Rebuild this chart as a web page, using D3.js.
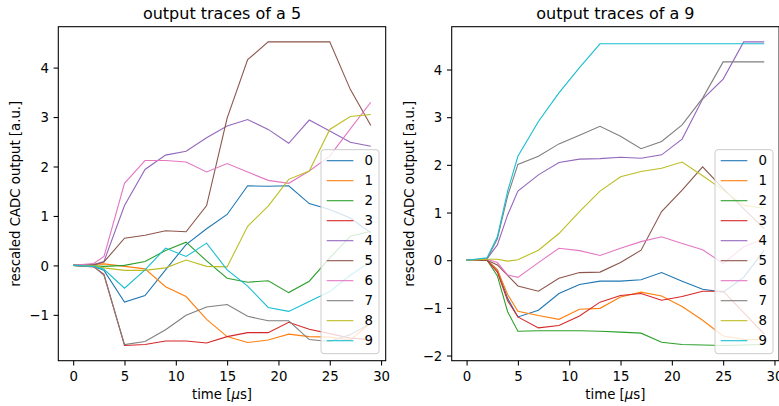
<!DOCTYPE html>
<html lang="en">
<head>
<meta charset="UTF-8">
<title>output traces</title>
<script src="https://d3js.org/d3.v7.min.js"></script>
<style>
body {
  margin: 0px;
  overflow: hidden;
  background: white;
}
text {
  font-family: "DejaVu Sans", sans-serif;
  fill: black;
}
.tick text {
  font-size: 13.3px;
}
.tick line, .domain {
  stroke: black;
}
</style>
</head>
<body>
<svg width="779" height="406"></svg>
<script>
// sample times (us)
const timesFive = [0, 2, 3, 5, 7, 9, 11, 13, 15, 17, 19, 21, 23, 25, 27, 29];
const timesNine = [0, 2, 3, 4, 5, 7, 9, 11, 13, 15, 17, 19, 21, 23, 25, 27, 29];

const labels = ['0', '1', '2', '3', '4', '5', '6', '7', '8', '9'];
const colors = ['#1f77b4', '#ff7f0e', '#2ca02c', '#d62728', '#9467bd',
                '#8c564b', '#e377c2', '#7f7f7f', '#bcbd22', '#17becf'];
const xTicks = [0, 5, 10, 15, 20, 25, 30];

// traces for the digit 5, one row per output neuron
const tracesFive = [
  [0, -0.02, -0.10, -0.74, -0.61, -0.09, 0.42, 0.74, 1.03, 1.61, 1.60, 1.61, 1.25, 1.13, 0.96, 0.66],
  [0, 0.02, 0.03, -0.02, -0.07, -0.43, -0.63, -1.09, -1.44, -1.56, -1.51, -1.39, -1.44, -1.45, -1.51, -1.16],
  [0, -0.01, -0.02, 0.00, 0.08, 0.30, 0.47, 0.09, -0.26, -0.34, -0.31, -0.55, -0.32, 0.15, 0.59, 0.69],
  [0, -0.03, -0.18, -1.62, -1.60, -1.53, -1.53, -1.57, -1.44, -1.36, -1.36, -1.15, -1.29, -1.38, -1.47, -1.50],
  [0, 0.02, 0.08, 1.21, 1.94, 2.23, 2.31, 2.58, 2.82, 2.95, 2.75, 2.47, 2.94, 2.72, 2.49, 2.41],
  [0, 0.01, 0.07, 0.55, 0.61, 0.70, 0.68, 1.21, 2.98, 4.16, 4.52, 4.52, 4.52, 4.52, 3.56, 2.83],
  [0, 0.04, 0.18, 1.66, 2.12, 2.12, 2.09, 1.89, 2.06, 1.89, 1.72, 1.66, 1.91, 2.21, 2.76, 3.30],
  [0, -0.02, -0.20, -1.60, -1.54, -1.30, -1.01, -0.84, -0.79, -1.03, -1.12, -1.12, -1.50, -1.54, -1.40, -1.17],
  [0, -0.01, -0.05, -0.10, -0.10, -0.05, 0.11, -0.02, -0.03, 0.79, 1.20, 1.74, 1.91, 2.75, 3.01, 3.05],
  [0, -0.02, -0.08, -0.46, -0.09, 0.35, 0.18, 0.45, -0.09, -0.42, -0.85, -0.93, -0.73, -0.53, -0.20, 0.08]
];

// traces for the digit 9
const tracesNine = [
  [0, 0.00, -0.20, -0.80, -1.19, -1.05, -0.70, -0.51, -0.44, -0.44, -0.41, -0.26, -0.44, -0.61, -0.67, -0.36, 0.21],
  [0, 0.00, -0.20, -0.72, -1.07, -1.16, -1.24, -1.03, -1.01, -0.77, -0.67, -0.75, -0.97, -1.26, -1.59, -1.66, -1.67],
  [0, 0.00, -0.33, -1.08, -1.49, -1.48, -1.48, -1.48, -1.49, -1.51, -1.53, -1.72, -1.77, -1.78, -1.79, -1.78, -1.77],
  [0, 0.00, -0.25, -0.85, -1.19, -1.42, -1.37, -1.17, -0.88, -0.74, -0.70, -0.84, -0.76, -0.65, -0.65, -1.10, -1.55],
  [0, 0.03, 0.32, 0.95, 1.45, 1.79, 2.05, 2.12, 2.13, 2.16, 2.14, 2.21, 2.54, 3.38, 3.80, 4.58, 4.58],
  [0, 0.00, -0.10, -0.32, -0.54, -0.65, -0.38, -0.26, -0.25, -0.05, 0.21, 1.02, 1.47, 1.96, 1.50, 1.08, 0.66],
  [0, 0.02, -0.05, -0.31, -0.36, -0.05, 0.25, 0.20, 0.10, 0.25, 0.39, 0.49, 0.35, 0.22, -0.07, 0.28, 0.45],
  [0, 0.03, 0.45, 1.35, 2.01, 2.18, 2.44, 2.62, 2.81, 2.60, 2.34, 2.49, 2.84, 3.40, 4.16, 4.16, 4.16],
  [0, 0.02, 0.02, -0.02, 0.01, 0.21, 0.56, 1.02, 1.45, 1.75, 1.86, 1.93, 2.06, 1.77, 1.47, 1.15, 1.09],
  [0, 0.05, 0.49, 1.45, 2.18, 2.91, 3.51, 4.04, 4.54, 4.54, 4.54, 4.54, 4.54, 4.54, 4.54, 4.54, 4.54]
];

const minus = v => String(v).replace('-', '\u2212');

// matplotlib style 5% margin
const padded = ext => {
  const r = ext[1] - ext[0];
  return [ext[0] - 0.05 * r, ext[1] + 0.05 * r];
};

const tracePlot = (selection, props) => {
  const { left, top, width, height, times, traces, title, legendX } = props;

  const g = selection.append('g')
    .attr('transform', `translate(${left},${top})`);

  const xScale = d3.scaleLinear()
    .domain(padded(d3.extent(times)))
    .range([0, width]);

  const yScale = d3.scaleLinear()
    .domain(padded(d3.extent(traces.flat())))
    .range([height, 0]);

  const xAxis = d3.axisBottom(xScale)
    .tickValues(xTicks)
    .tickSizeInner(4.7)
    .tickSizeOuter(0)
    .tickPadding(4.7);

  const yAxis = d3.axisLeft(yScale)
    .ticks(8)
    .tickFormat(minus)
    .tickSizeInner(4.7)
    .tickSizeOuter(0)
    .tickPadding(4.7);

  const line = d3.line()
    .x((d, i) => xScale(times[i]))
    .y(d => yScale(d));

  g.selectAll('path.trace').data(traces)
    .enter().append('path')
      .attr('class', 'trace')
      .attr('d', line)
      .attr('fill', 'none')
      .attr('stroke', (d, i) => colors[i])
      .attr('stroke-width', 1.1);

  // frame
  g.append('rect')
    .attr('width', width)
    .attr('height', height)
    .attr('fill', 'none')
    .attr('stroke', 'black')
    .attr('stroke-width', 1.07);

  const xAxisG = g.append('g')
    .attr('transform', `translate(0,${height})`)
    .call(xAxis);
  xAxisG.select('.domain').remove();
  xAxisG.selectAll('.tick line').attr('stroke-width', 1.07);
  xAxisG.selectAll('.tick text').attr('dy', null).attr('y', 20.5);

  const yAxisG = g.append('g').call(yAxis);
  yAxisG.select('.domain').remove();
  yAxisG.selectAll('.tick line').attr('stroke-width', 1.07);
  yAxisG.selectAll('.tick text').attr('dy', '0.36em');

  g.append('text')
    .attr('x', width / 2)
    .attr('y', -8)
    .attr('text-anchor', 'middle')
    .style('font-size', '16px')
    .text(title);

  const xLabel = g.append('text')
    .attr('x', width / 2)
    .attr('y', height + 38)
    .attr('text-anchor', 'middle')
    .style('font-size', '13.3px');
  xLabel.append('tspan').text('time [');
  xLabel.append('tspan').style('font-style', 'italic').text('\u03bc');
  xLabel.append('tspan').text('s]');

  g.append('text')
    .attr('transform', `translate(-38,${height / 2}) rotate(-90)`)
    .attr('text-anchor', 'middle')
    .style('font-size', '13.3px')
    .text('rescaled CADC output [a.u.]');

  // legend
  const lg = g.append('g')
    .attr('transform', `translate(${legendX},${123})`);
  lg.append('rect')
    .attr('width', 58)
    .attr('height', 204)
    .attr('rx', 3)
    .attr('fill', 'white')
    .attr('fill-opacity', 0.8)
    .attr('stroke', '#cccccc')
    .attr('stroke-width', 1);
  const item = lg.selectAll('g.item').data(labels)
    .enter().append('g')
      .attr('class', 'item')
      .attr('transform', (d, i) => `translate(0,${11 + i * 20})`);
  item.append('line')
    .attr('x1', 5.7)
    .attr('x2', 32.4)
    .attr('stroke', (d, i) => colors[i])
    .attr('stroke-width', 1.1);
  item.append('text')
    .attr('x', 43.5)
    .attr('dy', '0.36em')
    .style('font-size', '13.3px')
    .text(d => d);
};

const svg = d3.select('svg');

svg.call(tracePlot, {
  left: 58.3, top: 26.7, width: 327.4, height: 334,
  times: timesFive, traces: tracesFive,
  title: 'output traces of a 5', legendX: 262.7
});

svg.call(tracePlot, {
  left: 451.7, top: 26.7, width: 327.4, height: 334,
  times: timesNine, traces: tracesNine,
  title: 'output traces of a 9', legendX: 263.3
});
</script>
</body>
</html>
